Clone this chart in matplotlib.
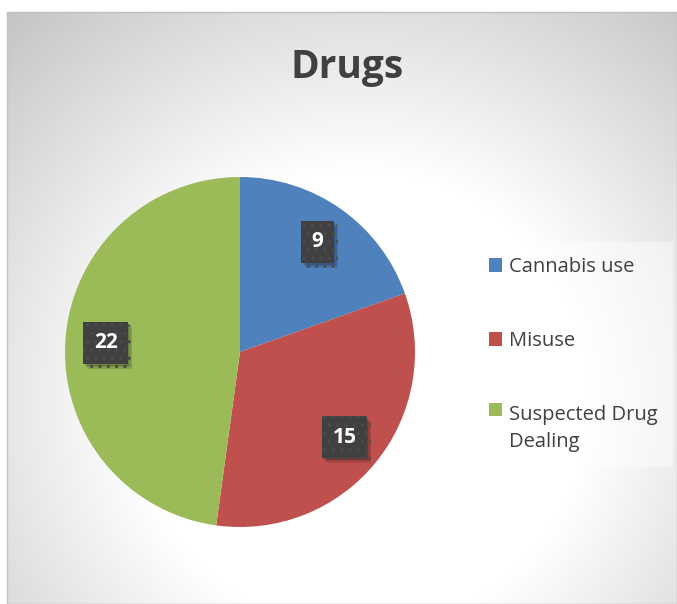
import numpy as np
import matplotlib.pyplot as plt
from matplotlib import patheffects
from matplotlib.patches import Rectangle

categories = ['Cannabis use', 'Misuse', 'Suspected Drug\nDealing']
counts = [9, 15, 22]
colors = ['#4f81bd', '#c0504d', '#9bbb59']

W, H = 677, 604
plt.rcParams['font.family'] = ['Open Sans', 'DejaVu Sans']
fig = plt.figure(figsize=(W / 100, H / 100), dpi=100)

# grey radial backdrop, whitest a little right of and below the middle
bg = fig.add_axes([0, 0, 1, 1])
bg.set_xlim(0, W)
bg.set_ylim(H, 0)
bg.axis('off')
yy, xx = np.mgrid[0:H, 0:W] + 0.5
r = np.hypot(xx - 360, yy - 400)
shade = (255 - 60 * np.clip((r - 230) / 300, 0, 1)) / 255
img = np.dstack([shade] * 3)
img[:12, :] = 1
img[:, :7] = 1
bg.imshow(img, extent=(0, W, H, 0), interpolation='bilinear', aspect='auto')
bg.add_patch(Rectangle((7, 12), W - 7, H - 12, fill=False, ec='#bfbfbf', lw=1))

fig.text(347 / W, 1 - 78 / H, 'Drugs', ha='center', va='baseline',
         fontsize=28, fontweight='bold', color='#404040')

# pie
cx, cy, R = 240, 352, 175
ax = fig.add_axes([(cx - R) / W, (H - cy - R) / H, 2 * R / W, 2 * R / H])
wedges, _ = ax.pie(counts, colors=colors, startangle=90, counterclock=False,
                   radius=1)
ax.set_xlim(-1, 1)
ax.set_ylim(-1, 1)

# soft drop shadow built from a few faint offset copies
shadow = [patheffects.withSimplePatchShadow(offset=o, shadow_rgbFace='black',
                                            alpha=0.12)
          for o in [(1, -1.5), (2, -2.5), (3, -3.5)]]

for w, n in zip(wedges, counts):
    mid = np.deg2rad((w.theta1 + w.theta2) / 2)
    d = 0.77
    t = ax.text(d * np.cos(mid), d * np.sin(mid), str(n), ha='center', va='center',
                color='white', fontsize=15, fontweight='bold',
                bbox=dict(boxstyle='square,pad=0.5', fc='#404040', ec='#4c4c4c',
                          lw=0, hatch='..'))
    t.get_bbox_patch().set_path_effects(shadow + [patheffects.Normal()])

fs = 14.5
leg = fig.legend(wedges, categories, loc='upper left',
                 bbox_to_anchor=(474 / W, 1 - 242 / H), borderaxespad=0,
                 fontsize=fs, frameon=True, facecolor='white', framealpha=0.45,
                 edgecolor='none', fancybox=False, labelspacing=2.68,
                 handlelength=0.65, handleheight=0.65, handletextpad=0.35,
                 borderpad=0.75, labelcolor='#404040')
for txt in leg.get_texts():
    txt.set_linespacing(1.47)

# keep the last square level with the first line of its two-line label
line_gap = 1.47 * 1.3 * fs
leg.legend_handles[2].set_y(leg.legend_handles[2].get_y() + line_gap / 2)

fig.savefig('out.png', dpi=100)
